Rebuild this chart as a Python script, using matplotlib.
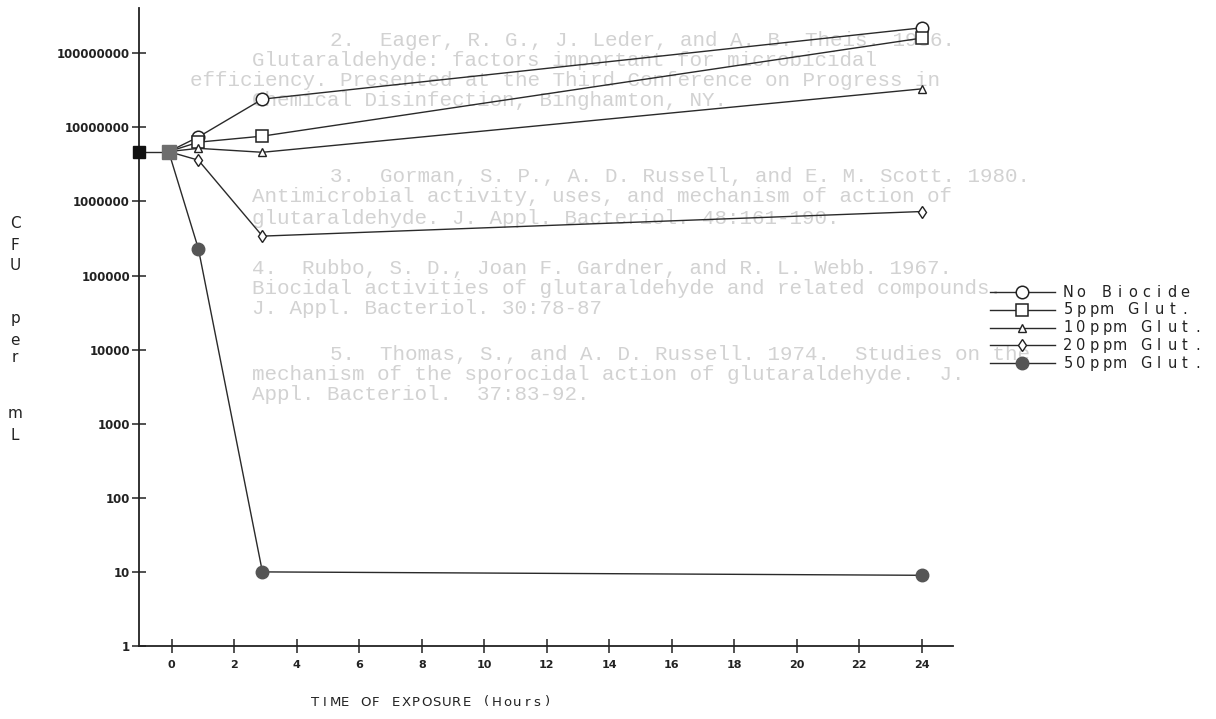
import matplotlib
matplotlib.use('Agg')

import matplotlib.pyplot as plt
from matplotlib.lines import Line2D
from matplotlib.ticker import FixedLocator, FuncFormatter, NullLocator

W, H, DPI = 1216, 719, 100

# inoculum reading before exposure
inoculum_t = [-1.05, -0.1]
inoculum_cfu = [4.7e6, 4.7e6]

# exposure readings (hours, CFU per mL)
times = [-0.1, 0.85, 2.9, 24]
no_biocide = [4.7e6, 7.4e6, 2.4e7, 2.2e8]
glut_5 = [4.7e6, 6.3e6, 7.6e6, 1.6e8]
glut_10 = [4.7e6, 5.2e6, 4.6e6, 3.3e7]
glut_20 = [4.7e6, 3.6e6, 3.4e5, 7.3e5]
glut_50 = [4.7e6, 2.3e5, 10, 9]

labels = ['No Biocide', '5ppm Glut.', '10ppm Glut.', '20ppm Glut.', '50ppm Glut.']
x_ticks = list(range(0, 25, 2))
y_ticks = [1, 10, 100, 1000, 10000, 100000, 1000000, 10000000, 100000000]

# reference list showing through from the other side of the sheet
ghost_lines = [
    ("2.  Eager, R. G., J. Leder, and A. B. Theis. 1986.", 330, 40),
    ("Glutaraldehyde: factors important for microbicidal", 252, 60),
    ("efficiency. Presented at the Third Conference on Progress in", 190, 80),
    ("Chemical Disinfection, Binghamton, NY.", 252, 100),
    ("3.  Gorman, S. P., A. D. Russell, and E. M. Scott. 1980.", 330, 177),
    ("Antimicrobial activity, uses, and mechanism of action of", 252, 197),
    ("glutaraldehyde. J. Appl. Bacteriol. 48:161-190.", 252, 218),
    ("4.  Rubbo, S. D., Joan F. Gardner, and R. L. Webb. 1967.", 252, 268),
    ("Biocidal activities of glutaraldehyde and related compounds.", 252, 288),
    ("J. Appl. Bacteriol. 30:78-87", 252, 308),
    ("5.  Thomas, S., and A. D. Russell. 1974.  Studies on the", 330, 355),
    ("mechanism of the sporocidal action of glutaraldehyde.  J.", 252, 375),
    ("Appl. Bacteriol.  37:83-92.", 252, 395),
]

STYLES = [
    dict(marker='o', ms=9, mfc='white', mec='#222222', mew=1.1),
    dict(marker='s', ms=9, mfc='white', mec='#222222', mew=1.1),
    dict(marker='^', ms=5.5, mfc='white', mec='#222222', mew=1.0),
    dict(marker='d', ms=6.5, mfc='white', mec='#222222', mew=1.0),
    dict(marker='o', ms=9, mfc='#555555', mec='#555555', mew=1.0),
]
LINE = '#2a2a2a'


def px(x, y):
    return x / W, 1 - y / H


fig = plt.figure(figsize=(W / DPI, H / DPI), dpi=DPI)
fig.patch.set_facecolor('white')


def tracked(x, y, s, step, **kw):
    # plotter style lettering: one glyph per fixed step
    for i, ch in enumerate(s):
        if ch != ' ':
            fig.text(*px(x + i * step, y), ch, ha='center', va='center', **kw)


for txt, gx, gy in ghost_lines:
    fig.text(*px(gx, gy), txt, ha='left', va='center', fontsize=15,
             family='Liberation Mono', color='#d2d2d2', zorder=-5)

ax = fig.add_axes([139 / W, 1 - 646 / H, (953 - 139) / W, (646 - 8) / H])
ax.set_facecolor('none')
ax.set_yscale('log')
ax.set_xlim(-1.05, 25)
ax.set_ylim(1, 10 ** 8.61)

for sp in ['top', 'right']:
    ax.spines[sp].set_visible(False)
for sp in ['left', 'bottom']:
    ax.spines[sp].set_linewidth(1.3)
    ax.spines[sp].set_color('#222222')

ax.xaxis.set_major_locator(FixedLocator(x_ticks))
ax.yaxis.set_major_locator(FixedLocator(y_ticks))
ax.yaxis.set_minor_locator(NullLocator())
ax.yaxis.set_major_formatter(FuncFormatter(lambda v, p: '%d' % round(v)))
ax.tick_params(axis='both', direction='inout', length=10, width=1.1,
               color='#222222', labelcolor='#222222')
ax.tick_params(axis='y', pad=1.5, labelsize=8.5)
ax.tick_params(axis='x', pad=5, labelsize=8)
for lab in ax.get_xticklabels() + ax.get_yticklabels():
    lab.set_fontweight('bold')

series = [no_biocide, glut_5, glut_10, glut_20, glut_50]
for vals, st in zip(series, STYLES):
    ax.plot(times, vals, color=LINE, lw=1.0, markevery=[1, 2, 3],
            clip_on=False, zorder=3, **st)

ax.plot(inoculum_t, inoculum_cfu, color=LINE, lw=1.0, zorder=3, clip_on=False)
ax.plot(inoculum_t[:1], inoculum_cfu[:1], 's', ms=8, color='#111111',
        zorder=4, clip_on=False)
ax.plot(inoculum_t[1:], inoculum_cfu[1:], 's', ms=10, color='#6e6e6e',
        zorder=4, clip_on=False)

# legend
for i, (lab, st) in enumerate(zip(labels, STYLES)):
    ly = 292 + i * 17.8
    fig.add_artist(Line2D([990 / W, 1055 / W], [1 - ly / H] * 2,
                          color=LINE, lw=1.0))
    fig.add_artist(Line2D([1022 / W], [1 - ly / H], ls='none', **st))
    tracked(1068, ly, lab, 13, fontsize=10.5, color='#222222')

# axis titles
tracked(315, 702, 'TIME OF EXPOSURE (Hours)', 10.1, fontsize=9.5,
        color='#222222')
for ch, cy in zip('CFUpermL', [223, 245, 265, 318, 340, 357, 413, 436]):
    fig.text(*px(15, cy), ch, ha='center', va='center', fontsize=11,
             color='#222222')

fig.savefig('out.png', dpi=DPI, facecolor='white')
plt.close(fig)
